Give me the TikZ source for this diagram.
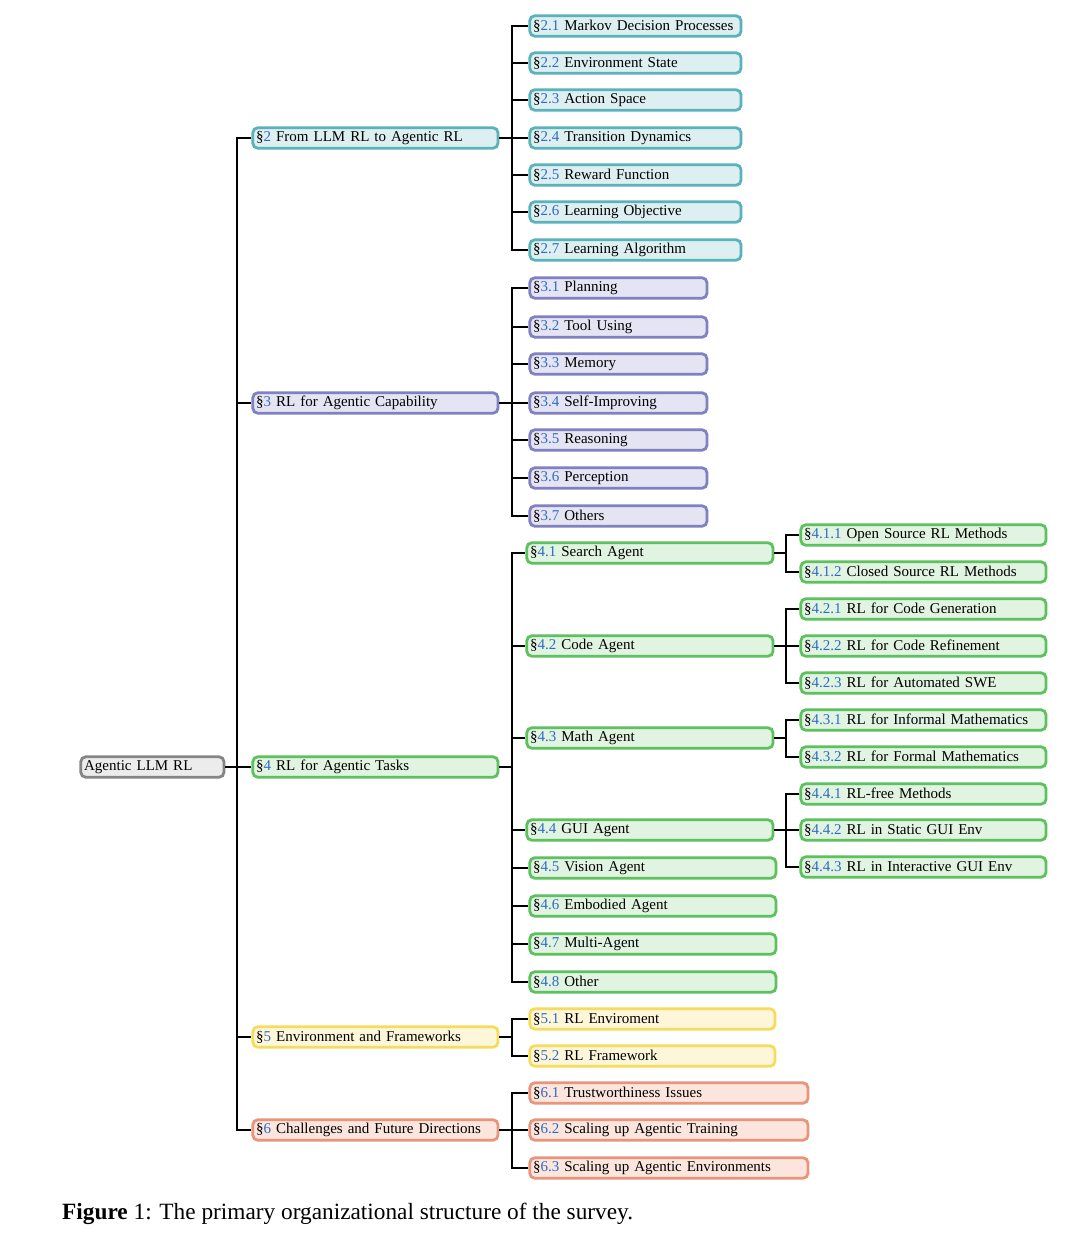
\documentclass[tikz,border=0pt]{standalone}
\usepackage{fontspec}
\setmainfont{Liberation Serif}
\usetikzlibrary{calc}
\definecolor{numc}{HTML}{2F6BC6}
\definecolor{tealb}{HTML}{5AB2BA}\definecolor{tealf}{HTML}{DDEFF0}
\definecolor{purb}{HTML}{8080C2}\definecolor{purf}{HTML}{E4E4F3}
\definecolor{grnb}{HTML}{5DC15D}\definecolor{grnf}{HTML}{E1F3E1}
\definecolor{yelb}{HTML}{F6DC5C}\definecolor{yelf}{HTML}{FDF6D9}
\definecolor{salb}{HTML}{E9957B}\definecolor{salf}{HTML}{FBE5DD}
\definecolor{gryb}{HTML}{858585}\definecolor{gryf}{HTML}{ECECEC}
\newcommand{\sn}[1]{\S\textcolor{numc}{#1}}
\tikzset{
  bx/.style={draw, rounded corners=5pt, line width=2.8pt, minimum height=20.5pt,
    inner xsep=3.3pt, inner ysep=0pt, anchor=west, align=left,
    font=\fontsize{15}{17}\selectfont},
  tw/.style={text width=#1pt-2.8pt-6.6pt},
  kteal/.style={bx, draw=tealb, fill=tealf},
  kpur/.style={bx, draw=purb, fill=purf},
  kgrn/.style={bx, draw=grnb, fill=grnf},
  kyel/.style={bx, draw=yelb, fill=yelf},
  ksal/.style={bx, draw=salb, fill=salf},
  kgry/.style={bx, draw=gryb, fill=gryf},
  ln/.style={draw=black, line width=1.5pt},
}
\begin{document}
\begin{tikzpicture}[x=1pt,y=-1pt]
\useasboundingbox[fill=white] (0,0) rectangle (1080,1246);
% trunk coordinates
\coordinate (t1) at (237,0);
\coordinate (t2) at (512,0);
\coordinate (t3) at (786,0);
% root
\node[kgry, tw=146] (root) at (79.4,767) {Agentic LLM RL};
% level 1
\node[kteal, tw=248] (s2) at (251.4,138) {\sn{2} From LLM RL to Agentic RL};
\node[kpur, tw=248] (s3) at (251.4,403) {\sn{3} RL for Agentic Capability};
\node[kgrn, tw=248] (s4) at (251.4,767) {\sn{4} RL for Agentic Tasks};
\node[kyel, tw=248] (s5) at (251.4,1037) {\sn{5} Environment and Frameworks};
\node[ksal, tw=248] (s6) at (251.4,1130) {\sn{6} Challenges and Future Directions};
% section 2
\node[kteal, tw=214] (s21) at (528.4,26) {\sn{2.1} Markov Decision Processes};
\node[kteal, tw=214] (s22) at (528.4,63) {\sn{2.2} Environment State};
\node[kteal, tw=214] (s23) at (528.4,100) {\sn{2.3} Action Space};
\node[kteal, tw=214] (s24) at (528.4,138) {\sn{2.4} Transition Dynamics};
\node[kteal, tw=214] (s25) at (528.4,175) {\sn{2.5} Reward Function};
\node[kteal, tw=214] (s26) at (528.4,212) {\sn{2.6} Learning Objective};
\node[kteal, tw=214] (s27) at (528.4,250) {\sn{2.7} Learning Algorithm};
% section 3
\node[kpur, tw=180] (s31) at (528.4,288) {\sn{3.1} Planning};
\node[kpur, tw=180] (s32) at (528.4,327) {\sn{3.2} Tool Using};
\node[kpur, tw=180] (s33) at (528.4,364) {\sn{3.3} Memory};
\node[kpur, tw=180] (s34) at (528.4,403) {\sn{3.4} Self-Improving};
\node[kpur, tw=180] (s35) at (528.4,440) {\sn{3.5} Reasoning};
\node[kpur, tw=180] (s36) at (528.4,478) {\sn{3.6} Perception};
\node[kpur, tw=180] (s37) at (528.4,516) {\sn{3.7} Others};
% section 4
\node[kgrn, tw=249] (s41) at (525.4,553) {\sn{4.1} Search Agent};
\node[kgrn, tw=249] (s42) at (525.4,646) {\sn{4.2} Code Agent};
\node[kgrn, tw=249] (s43) at (525.4,738) {\sn{4.3} Math Agent};
\node[kgrn, tw=249] (s44) at (525.4,830) {\sn{4.4} GUI Agent};
\node[kgrn, tw=249] (s45) at (528.4,868) {\sn{4.5} Vision Agent};
\node[kgrn, tw=249] (s46) at (528.4,906) {\sn{4.6} Embodied Agent};
\node[kgrn, tw=249] (s47) at (528.4,944) {\sn{4.7} Multi-Agent};
\node[kgrn, tw=249] (s48) at (528.4,982) {\sn{4.8} Other};
% level 3
\node[kgrn, tw=248] (s411) at (799.4,535) {\sn{4.1.1} Open Source RL Methods};
\node[kgrn, tw=248] (s412) at (799.4,572) {\sn{4.1.2} Closed Source RL Methods};
\node[kgrn, tw=248] (s421) at (799.4,609) {\sn{4.2.1} RL for Code Generation};
\node[kgrn, tw=248] (s422) at (799.4,646) {\sn{4.2.2} RL for Code Refinement};
\node[kgrn, tw=248] (s423) at (799.4,683) {\sn{4.2.3} RL for Automated SWE};
\node[kgrn, tw=248] (s431) at (799.4,720) {\sn{4.3.1} RL for Informal Mathematics};
\node[kgrn, tw=248] (s432) at (799.4,757) {\sn{4.3.2} RL for Formal Mathematics};
\node[kgrn, tw=248] (s441) at (799.4,794) {\sn{4.4.1} RL-free Methods};
\node[kgrn, tw=248] (s442) at (799.4,830) {\sn{4.4.2} RL in Static GUI Env};
\node[kgrn, tw=248] (s443) at (799.4,867) {\sn{4.4.3} RL in Interactive GUI Env};
% section 5
\node[kyel, tw=248] (s51) at (528.4,1019) {\sn{5.1} RL Enviroment};
\node[kyel, tw=248] (s52) at (528.4,1056) {\sn{5.2} RL Framework};
% section 6
\node[ksal, tw=281] (s61) at (528.4,1093) {\sn{6.1} Trustworthiness Issues};
\node[ksal, tw=281] (s62) at (528.4,1130) {\sn{6.2} Scaling up Agentic Training};
\node[ksal, tw=281] (s63) at (528.4,1168) {\sn{6.3} Scaling up Agentic Environments};
% connectors
\foreach \c in {s2,s3,s4,s5,s6}
  \draw[ln] (root.east) -- (root.east -| t1) |- (\c.west);
\foreach \c in {s21,s22,s23,s24,s25,s26,s27}
  \draw[ln] (s2.east) -- (s2.east -| t2) |- (\c.west);
\foreach \c in {s31,s32,s33,s34,s35,s36,s37}
  \draw[ln] (s3.east) -- (s3.east -| t2) |- (\c.west);
\foreach \c in {s41,s42,s43,s44,s45,s46,s47,s48}
  \draw[ln] (s4.east) -- (s4.east -| t2) |- (\c.west);
\foreach \c in {s411,s412}
  \draw[ln] (s41.east) -- (s41.east -| t3) |- (\c.west);
\foreach \c in {s421,s422,s423}
  \draw[ln] (s42.east) -- (s42.east -| t3) |- (\c.west);
\foreach \c in {s431,s432}
  \draw[ln] (s43.east) -- (s43.east -| t3) |- (\c.west);
\foreach \c in {s441,s442,s443}
  \draw[ln] (s44.east) -- (s44.east -| t3) |- (\c.west);
\foreach \c in {s51,s52}
  \draw[ln] (s5.east) -- (s5.east -| t2) |- (\c.west);
\foreach \c in {s61,s62,s63}
  \draw[ln] (s6.east) -- (s6.east -| t2) |- (\c.west);
% caption
\node[anchor=west, inner sep=0pt, font=\fontsize{23.3}{27}\selectfont] (cap) at (62,1214)
  {\textbf{Figure} 1: The primary organizational structure of the survey.};
\end{tikzpicture}
\end{document}
